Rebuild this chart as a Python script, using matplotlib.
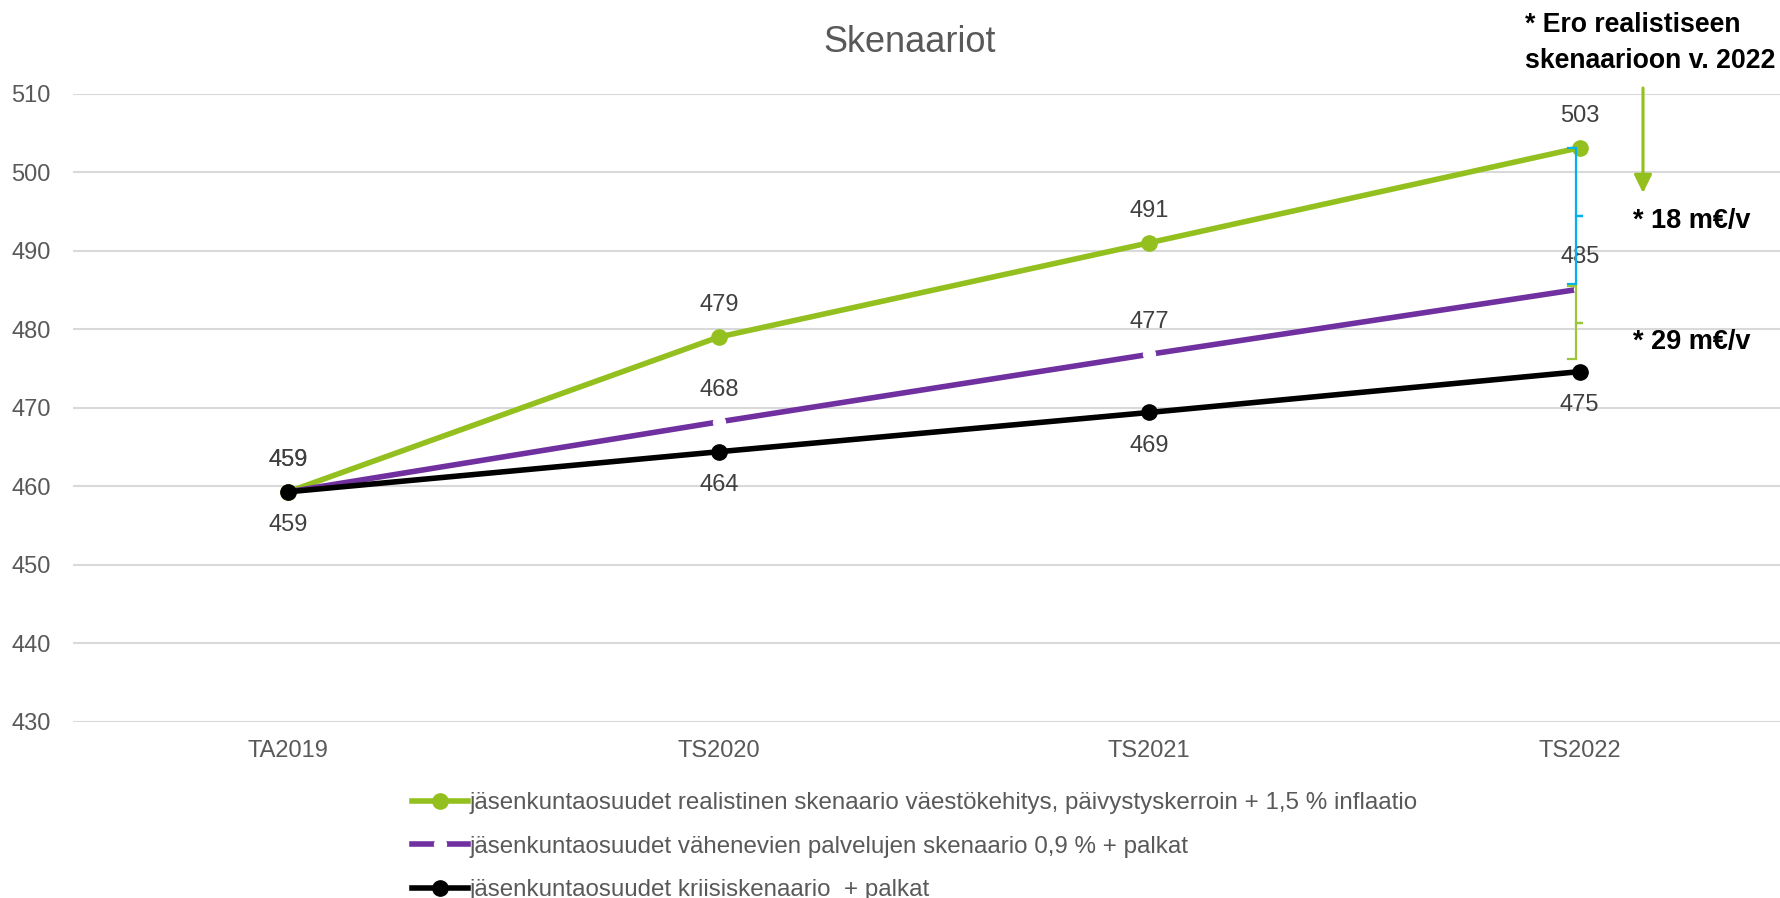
import numpy as np
import matplotlib
matplotlib.use('Agg')
import matplotlib.pyplot as plt
from matplotlib.lines import Line2D

plt.rcParams['font.family'] = ['Liberation Sans', 'DejaVu Sans']

# Skenaarioiden arvot (m€)
kategoriat = ['TA2019', 'TS2020', 'TS2021', 'TS2022']
realistinen = [459.3, 479.0, 491.0, 503.1]
vahenevat = [459.3, 468.2, 476.8, 485.1]
kriisi = [459.3, 464.4, 469.4, 474.6]

sarjat = [
    'jäsenkuntaosuudet realistinen skenaario väestökehitys, päivystyskerroin + 1,5 % inflaatio',
    'jäsenkuntaosuudet vähenevien palvelujen skenaario 0,9 % + palkat',
    'jäsenkuntaosuudet kriisiskenaario  + palkat',
]
erot = ['* 18 m€/v', '* 29 m€/v']

VIHREA = '#93c01f'
VIOLETTI = '#7030a0'
MUSTA = '#000000'
SININEN = '#00b0f0'
HARMAA = '#595959'
TEKSTI = '#404040'

W, H = 1781, 898
fig = plt.figure(figsize=(W / 100, H / 100), dpi=100)
ax = fig.add_axes([73 / W, 176 / H, (1795 - 73) / W, 628.5 / H])

x = np.arange(len(kategoriat))
lw = 4.0
ms = 11

ax.plot(x, realistinen, color=VIHREA, lw=lw, marker='o', ms=ms, zorder=3)
# vähenevien palvelujen sarjassa valkoiset merkit katkaisevat viivan pisteissä
ax.plot(x, vahenevat, color=VIOLETTI, lw=lw, marker='o', ms=9.6,
        mfc='white', mec='white', mew=0, zorder=4)
ax.plot(x, kriisi, color=MUSTA, lw=lw, marker='o', ms=ms, zorder=5)

# arvolaput
for i in x:
    ax.annotate(f'{realistinen[i]:.0f}', (i, realistinen[i]), xytext=(0, 23),
                textcoords='offset points', ha='center', va='center',
                fontsize=17, color=TEKSTI, zorder=6)
    ax.annotate(f'{vahenevat[i]:.0f}', (i, vahenevat[i]), xytext=(0, 23),
                textcoords='offset points', ha='center', va='center',
                fontsize=17, color=TEKSTI, zorder=6)
    ax.annotate(f'{kriisi[i]:.0f}', (i, kriisi[i]), xytext=(0, -24),
                textcoords='offset points', ha='center', va='center',
                fontsize=17, color=TEKSTI, zorder=6)

ax.set_xlim(-0.5, 3.5)
ax.set_ylim(430, 510)
ax.set_yticks(np.arange(430, 511, 10))
ax.set_xticks(x)
ax.set_xticklabels(kategoriat)
ax.grid(axis='y', color='#d9d9d9', lw=1.5)
ax.set_axisbelow(True)
for s in ax.spines.values():
    s.set_visible(False)
ax.tick_params(axis='both', length=0, labelsize=17, colors=HARMAA)
ax.tick_params(axis='y', pad=16)
ax.tick_params(axis='x', pad=13)

# hakasulkeet vuoden 2022 erotuksille
def hakanen(ylä, ala, vari):
    xv = 3 - 0.0093
    xs = 3 - 0.028
    keski = (ylä + ala) / 2
    ax.plot([xs, xv, xv, 3 + 0.008, xv, xv, xs],
            [ylä, ylä, keski, keski, keski, ala, ala],
            color=vari, lw=1.6, zorder=7, solid_joinstyle='miter')

hakanen(realistinen[-1], vahenevat[-1] + 0.6, SININEN)
hakanen(vahenevat[-1] + 0.4, kriisi[-1] + 1.6, '#9bc53d')

fig.text(1633 / W, 1 - 221 / H, erot[0], fontsize=19.5, weight='bold',
         ha='left', va='center', color='black')
fig.text(1633 / W, 1 - 342 / H, erot[1], fontsize=19.5, weight='bold',
         ha='left', va='center', color='black')
fig.text(1525 / W, 1 - 43 / H, '* Ero realistiseen\nskenaarioon v. 2022',
         fontsize=19.2, weight='bold', ha='left', va='center',
         linespacing=1.55, color='black')

ax.annotate('', xy=(1643, H - 193), xycoords='figure pixels',
            xytext=(1643, H - 88), textcoords='figure pixels',
            arrowprops=dict(arrowstyle='-|>,head_length=0.55,head_width=0.27',
                            color=VIHREA, lw=2.2, mutation_scale=20,
                            shrinkA=0, shrinkB=0))

fig.text(910 / W, 1 - 42 / H, 'Skenaariot', fontsize=26, color=HARMAA,
         ha='center', va='center')

kahvat = [
    Line2D([], [], color=VIHREA, lw=lw, marker='o', ms=ms),
    Line2D([], [], color=VIOLETTI, lw=lw, marker='o', ms=9.6,
           mfc='white', mec='white', mew=0),
    Line2D([], [], color=MUSTA, lw=lw, marker='o', ms=ms),
]
ax.legend(kahvat, sarjat, loc='upper left',
          bbox_to_anchor=(412 / W, 1 - 792.5 / H), bbox_transform=fig.transFigure,
          frameon=False, fontsize=17.4, labelcolor=HARMAA, handlelength=2.32,
          handletextpad=0.08, borderpad=0, borderaxespad=0, labelspacing=0.88)

fig.savefig('out.png', dpi=100)
